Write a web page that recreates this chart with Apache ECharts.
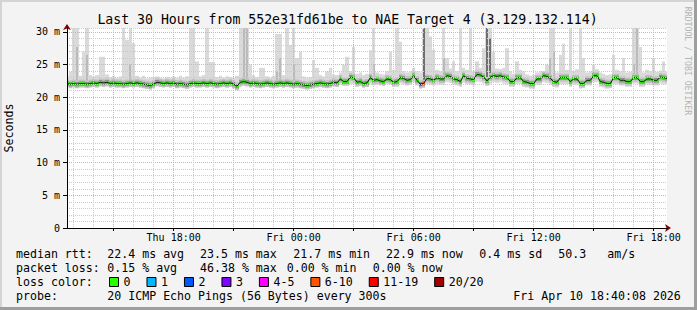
<!DOCTYPE html>
<html><head><meta charset="utf-8">
<script src="https://cdn.jsdelivr.net/npm/echarts@6/dist/echarts.min.js"></script>
<style>
html,body{margin:0;padding:0;background:#f3f3f3;overflow:hidden;}
#c{position:absolute;left:0;top:0;width:697px;height:310px;}
.fr{position:absolute;pointer-events:none;}
</style></head><body>
<div id="c"></div>
<div class="fr" style="left:0;top:0;width:697px;height:2px;background:#d4d4d4"></div>
<div class="fr" style="left:0;top:0;width:2px;height:310px;background:#d4d4d4"></div>
<div class="fr" style="right:0;top:0;width:3px;height:310px;background:#9e9e9e"></div>
<div class="fr" style="left:0;bottom:0;width:697px;height:3px;background:#9e9e9e"></div>
<script>
// ---- data (10-minute samples, Thu 12:40 .. Fri 18:40) ----
const startLabel = ['Thu', 12, 40];
const stepMinutes = 10;
const medianRtt = [
22.1,22.0,22.1,22.0,22.1,22.1,22.0,22.1,22.2,22.1,
22.3,22.2,22.3,22.1,22.2,22.1,22.1,22.0,22.1,22.2,
22.1,22.2,22.1,22.0,21.9,21.8,22.0,22.3,22.2,22.1,
22.2,22.1,22.2,22.0,22.1,22.0,21.9,22.1,22.2,22.1,
22.1,22.2,22.1,22.2,22.1,22.0,22.1,22.2,22.1,22.2,
22.0,21.7,22.3,22.4,22.3,22.1,22.2,22.1,22.0,22.1,
22.2,22.1,22.0,22.1,22.2,22.1,22.2,22.1,22.0,22.1,
22.0,21.9,21.8,21.9,22.0,22.1,22.2,22.1,22.0,22.1,
22.3,22.2,22.8,22.4,22.4,23.1,23.0,22.3,22.4,22.1,
22.2,23.0,22.6,22.7,22.5,22.4,22.8,22.7,22.3,22.4,
23.0,22.9,22.6,22.7,23.3,22.6,22.0,22.1,22.9,22.8,
22.6,23.0,22.8,22.8,23.3,23.2,22.8,22.7,22.4,23.3,
22.9,22.8,22.7,23.5,23.4,23.1,22.5,23.1,23.3,23.2,
23.3,23.1,23.0,22.4,22.4,23.0,23.0,22.4,22.3,22.1,
22.1,22.8,22.8,23.3,23.2,22.9,22.4,22.3,23.0,23.0,
23.0,22.4,22.8,22.8,22.1,22.1,22.6,22.6,23.3,23.3,
22.4,22.3,22.1,22.1,23.0,23.0,22.6,22.6,22.4,22.4,
23.0,23.0,22.4,22.4,22.8,22.8,22.6,22.6,23.1,23.0,22.9];
const pingMin = [
21.6,21.5,21.6,21.5,21.6,21.6,21.5,21.6,21.7,21.6,
21.7,21.6,21.7,21.6,21.6,21.5,21.6,21.5,21.6,21.6,
21.6,21.7,21.5,21.4,21.3,21.2,21.5,21.7,21.6,21.6,
21.6,21.5,21.6,21.5,21.6,21.5,21.4,21.6,21.6,21.5,
21.6,21.6,21.5,21.6,21.6,21.5,21.6,21.6,21.5,21.6,
21.4,21.1,21.6,21.8,21.7,21.6,21.6,21.5,21.5,21.6,
21.6,21.5,21.5,21.6,21.6,21.5,21.6,21.6,21.5,21.5,
21.4,21.4,21.3,21.4,21.5,21.6,21.6,21.5,21.5,21.6,
21.7,21.6,21.9,21.8,21.8,22.0,22.0,21.6,21.7,21.5,
21.6,22.0,21.8,21.9,21.8,21.7,22.0,21.9,21.6,21.6,
22.1,22.0,21.8,21.9,22.3,21.8,21.3,21.4,22.0,21.9,
21.8,22.0,21.9,21.9,22.3,22.2,21.9,21.8,21.6,22.2,
22.0,21.9,21.8,22.4,22.3,22.1,21.7,22.0,22.3,22.2,
22.3,22.1,22.0,21.6,21.6,22.0,22.0,21.6,21.5,21.3,
21.3,21.9,21.9,22.3,22.2,21.9,21.6,21.5,22.0,22.0,
22.0,21.6,21.9,21.9,21.3,21.4,21.8,21.8,22.3,22.3,
21.6,21.5,21.3,21.4,22.0,22.0,21.8,21.8,21.6,21.6,
22.1,22.1,21.6,21.6,21.9,21.9,21.8,21.8,22.1,22.0,22.0];
const pingMax = [
23.2,23.9,30.6,30.6,23.3,27.0,30.6,23.4,23.2,23.4,
26.2,26.2,23.5,23.1,23.3,23.0,23.2,30.6,28.8,30.6,
28.3,23.3,23.0,23.3,22.9,23.0,23.1,23.2,23.0,22.9,
23.1,23.0,23.2,23.0,23.3,23.0,23.2,30.6,30.6,25.5,
23.2,23.4,30.6,25.4,25.4,23.1,23.3,23.0,23.2,23.1,
23.0,23.3,30.6,30.6,30.6,25.0,23.4,23.1,24.5,24.5,
23.2,23.0,23.3,29.7,29.7,23.4,30.6,28.0,30.6,26.0,
27.0,23.2,23.0,23.1,25.7,24.5,23.4,23.2,24.0,24.5,
23.5,23.4,23.8,25.0,26.2,24.0,27.7,23.6,23.8,23.4,
23.6,27.2,30.6,23.8,23.6,23.5,24.0,27.0,24.2,30.6,
28.5,24.0,23.8,24.0,24.5,24.0,23.8,30.6,30.6,29.3,
27.3,24.2,24.0,30.6,26.0,24.4,25.5,24.0,30.6,24.5,
24.2,30.6,24.0,25.5,24.5,27.5,30.6,30.6,27.0,24.4,
24.3,24.5,27.5,24.0,23.6,25.5,24.2,24.0,23.5,23.3,
23.4,23.8,24.0,24.0,25.0,30.6,30.6,23.8,26.5,28.2,
24.2,30.6,24.0,24.3,30.6,26.0,23.8,24.0,25.0,24.3,
23.8,23.6,23.4,23.5,26.5,24.2,24.0,26.0,23.8,23.9,
30.6,30.6,27.7,23.8,24.2,24.0,26.0,23.9,24.1,25.5,24.0];
// denser smoke on some spikes (sample index, upper value)
const midIdx = [3, 6, 19, 53, 54, 63, 64, 68, 92, 113, 145, 146, 170, 171];
const midTop = [27.7, 26.5, 25.0, 30.6, 30.6, 24.0, 26.0, 25.0, 25.0, 26.0, 26.0, 27.0, 25.0, 30.6];
const darkIdx = [107, 126, 127];
const darkTop = [30.6, 30.6, 29.0];
// samples with packet loss (sample index, lost pings of 20)
const lossIdx = [106, 107];
const lossPings = [2, 9];
const lossNames = ['0', '1', '2', '3', '4-5', '6-10', '11-19', '20/20'];
const lossColors = ['#26ff00', '#00b8ff', '#0059ff', '#7e00ff', '#ff00ff', '#ff5500', '#ff0000', '#a10000'];
const xLabels = ['Thu 18:00', 'Fri 00:00', 'Fri 06:00', 'Fri 12:00', 'Fri 18:00'];
const yMax = 30.6;

// ---- categories ----
const categories = [];
const minuteOfDay = [];
for (let i = 0; i < medianRtt.length; i++) {
  const m = startLabel[1] * 60 + startLabel[2] + i * stepMinutes;
  const day = m >= 1440 ? 'Fri' : 'Thu';
  const md = m % 1440;
  minuteOfDay.push(md);
  const hh = String(Math.floor(md / 60)).padStart(2, '0');
  const mm = String(md % 60).padStart(2, '0');
  categories.push(day + ' ' + hh + ':' + mm);
}
function bucketOf(n) {
  if (n <= 0) return 0; if (n === 1) return 1; if (n === 2) return 2; if (n === 3) return 3;
  if (n <= 5) return 4; if (n <= 10) return 5; if (n <= 19) return 6; return 7;
}
const bucketData = lossNames.map(() => []);
medianRtt.forEach((m, i) => {
  const k = lossIdx.indexOf(i);
  const b = k >= 0 ? bucketOf(lossPings[k]) : 0;
  bucketData[b].push([i, m]);
});

const MONO = '"DejaVu Sans Mono", monospace';

function xspan(api, i, frac) {
  const c = api.coord([i, 0]);
  const w = api.size([1, 0])[0] * (frac || 1);
  const x0 = Math.round(c[0] - w / 2), x1 = Math.round(c[0] + w / 2);
  return [x0, Math.max(x1, x0 + 1)];
}
function rangeRect(fill, frac) {
  return function (params, api) {
    const i = api.value(0);
    const a = api.coord([i, api.value(1)]);
    const b = api.coord([i, api.value(2)]);
    const s = xspan(api, i, frac);
    return { type: 'rect', silent: true, shape: { x: s[0], y: b[1], width: s[1] - s[0], height: a[1] - b[1] }, style: { fill: fill } };
  };
}
function bandItem(params, api) {
  const i = api.value(0);
  const c = api.coord([i, api.value(1)]);
  const s = xspan(api, i);
  return { type: 'group', silent: true, children: [
    { type: 'rect', shape: { x: s[0], y: c[1] - 4, width: s[1] - s[0], height: 8 }, style: { fill: '#c2c2c2' } },
    { type: 'rect', shape: { x: s[0], y: c[1] - 2.2, width: s[1] - s[0], height: 4.4 }, style: { fill: '#8e8e8e' } }
  ]};
}
function lossItem(color) {
  return function (params, api) {
    const i = api.value(0);
    const c = api.coord([i, api.value(1)]);
    const s = xspan(api, i);
    return { type: 'rect', silent: true, shape: { x: s[0], y: c[1] - 1.2, width: s[1] - s[0], height: 2.4 }, style: { fill: color } };
  };
}

const smokeData = medianRtt.map((m, i) => [i, pingMin[i], pingMax[i]]);
const midData = midIdx.map((i, k) => [i, medianRtt[i], midTop[k]]);
const darkData = darkIdx.map((i, k) => [i, medianRtt[i], darkTop[k]]);
const bandData = medianRtt.map((m, i) => [i, m]);

const chart = echarts.init(document.getElementById('c'), null, { renderer: 'svg', width: 697, height: 310 });

const series = [
  { type: 'custom', name: 'smoke', renderItem: rangeRect('#dadada', 1), data: smokeData, encode: { x: 0, y: [1, 2] }, clip: true, z: 1 },
  { type: 'custom', name: 'smokeMid', renderItem: rangeRect('#bababa', 0.55), data: midData, encode: { x: 0, y: [1, 2] }, clip: true, z: 1 },
  { type: 'custom', name: 'smokeDark', renderItem: rangeRect('#6e6e6e', 0.55), data: darkData, encode: { x: 0, y: [1, 2] }, clip: true, z: 1 },
  { type: 'custom', name: 'band', renderItem: bandItem, data: bandData, encode: { x: 0, y: 1 }, clip: true, z: 1 },
  { type: 'line', name: 'median', data: medianRtt, showSymbol: false, symbol: 'none', silent: true,
    lineStyle: { color: '#141414', width: 1 }, z: 1 }
];
lossNames.forEach((n, b) => {
  series.push({ type: 'custom', name: n, renderItem: lossItem(lossColors[b]), data: bucketData[b],
    encode: { x: 0, y: 1 }, itemStyle: { color: lossColors[b] }, clip: true, z: 1 });
});

const gridLineRed = { color: '#ffa0a0', width: 1, type: [1, 1] };
const gridLineGrey = { color: '#cccccc', width: 1, type: [1, 1] };

chart.setOption({
  animation: false,
  backgroundColor: 'transparent',
  grid: { left: 67, top: 28, width: 600, height: 200, backgroundColor: '#ffffff', show: true, borderWidth: 0, outerBoundsMode: 'none' },
  xAxis: [
    { type: 'category', data: categories, boundaryGap: false, position: 'bottom', z: 6,
      axisLine: { show: true, onZero: false, lineStyle: { color: '#000', width: 1 } },
      axisTick: { show: true, length: 3, inside: false, lineStyle: { color: '#000' },
        interval: (idx) => minuteOfDay[idx] % 180 === 0 },
      axisLabel: { show: true, interval: (idx, val) => xLabels.indexOf(val) >= 0, margin: 4,
        color: '#000', fontFamily: MONO, fontSize: 10 },
      splitLine: { show: true, interval: (idx) => minuteOfDay[idx] % 180 === 0, lineStyle: gridLineRed }
    },
    { type: 'category', data: categories, boundaryGap: false, position: 'bottom', z: 5,
      axisLine: { show: true, onZero: false, symbol: ['none', 'arrow'], symbolSize: [6, 6], symbolOffset: [0, 4],
        lineStyle: { color: '#7f0000', width: 1 } },
      axisTick: { show: false }, axisLabel: { show: false },
      splitLine: { show: true, interval: (idx) => minuteOfDay[idx] % 60 === 0 && minuteOfDay[idx] % 180 !== 0, lineStyle: gridLineGrey }
    }
  ],
  yAxis: [
    { type: 'value', min: 0, max: yMax, interval: 5, position: 'left', z: 6,
      name: 'Seconds', nameLocation: 'middle', nameRotate: 90, nameGap: 52,
      nameTextStyle: { color: '#000', fontFamily: MONO, fontSize: 11.6 },
      axisLine: { show: true, lineStyle: { color: '#000', width: 1 } },
      axisTick: { show: true, length: 4, lineStyle: { color: '#000' } },
      axisLabel: { show: true, margin: 7, showMaxLabel: false, color: '#000', fontFamily: MONO, fontSize: 10,
        formatter: (v) => (v === 0 ? '0' : (Math.abs(v - Math.round(v)) < 1e-6 ? v + ' m' : '')) },
      splitLine: { show: true, showMinLine: true, showMaxLine: false, lineStyle: gridLineRed }
    },
    { type: 'value', min: 0, max: yMax, interval: 1, position: 'left', z: 5,
      axisLine: { show: true, symbol: ['none', 'arrow'], symbolSize: [6, 6], symbolOffset: [0, 4],
        lineStyle: { color: '#7f0000', width: 1 } },
      axisTick: { show: false }, axisLabel: { show: false },
      splitLine: { show: true, lineStyle: gridLineGrey }
    }
  ],
  legend: {
    data: lossNames, left: 109, top: 276, padding: 0, itemGap: 16, itemWidth: 9, itemHeight: 9,
    icon: 'rect', selectedMode: false, orient: 'horizontal',
    itemStyle: { borderColor: '#000', borderWidth: 1 },
    textStyle: { color: '#000', fontFamily: MONO, fontSize: 11.6 }
  },
  graphic: [
    { type: 'text', x: 347.5, y: 19.5, silent: true, style: { text: 'Last 30 Hours from 552e31fd61be to NAE Target 4 (3.129.132.114)', fill: '#000', font: '13.2px ' + MONO, align: 'center', verticalAlign: 'middle' } },
    { type: 'text', x: 688, y: 61, rotation: -Math.PI / 2, silent: true, style: { text: 'RRDTOOL / TOBI OETIKER', fill: '#b4b4b4', font: '8.2px ' + MONO, align: 'center', verticalAlign: 'middle' } },
    { type: 'text', x: 16, y: 254, silent: true, style: { text: 'median rtt:', fill: '#000', font: '11.6px ' + MONO, verticalAlign: 'middle' } },
    { type: 'text', x: 107.3, y: 254, silent: true, style: { text: '22.4 ms avg', fill: '#000', font: '11.6px ' + MONO, verticalAlign: 'middle' } },
    { type: 'text', x: 200, y: 254, silent: true, style: { text: '23.5 ms max', fill: '#000', font: '11.6px ' + MONO, verticalAlign: 'middle' } },
    { type: 'text', x: 293.3, y: 254, silent: true, style: { text: '21.7 ms min', fill: '#000', font: '11.6px ' + MONO, verticalAlign: 'middle' } },
    { type: 'text', x: 386, y: 254, silent: true, style: { text: '22.9 ms now', fill: '#000', font: '11.6px ' + MONO, verticalAlign: 'middle' } },
    { type: 'text', x: 479.3, y: 254, silent: true, style: { text: '0.4 ms sd', fill: '#000', font: '11.6px ' + MONO, verticalAlign: 'middle' } },
    { type: 'text', x: 558.3, y: 254, silent: true, style: { text: '50.3', fill: '#000', font: '11.6px ' + MONO, verticalAlign: 'middle' } },
    { type: 'text', x: 607.3, y: 254, silent: true, style: { text: 'am/s', fill: '#000', font: '11.6px ' + MONO, verticalAlign: 'middle' } },
    { type: 'text', x: 16, y: 268.3, silent: true, style: { text: 'packet loss:', fill: '#000', font: '11.6px ' + MONO, verticalAlign: 'middle' } },
    { type: 'text', x: 107.3, y: 268.3, silent: true, style: { text: '0.15 % avg', fill: '#000', font: '11.6px ' + MONO, verticalAlign: 'middle' } },
    { type: 'text', x: 200, y: 268.3, silent: true, style: { text: '46.38 % max', fill: '#000', font: '11.6px ' + MONO, verticalAlign: 'middle' } },
    { type: 'text', x: 286.7, y: 268.3, silent: true, style: { text: '0.00 % min', fill: '#000', font: '11.6px ' + MONO, verticalAlign: 'middle' } },
    { type: 'text', x: 372.7, y: 268.3, silent: true, style: { text: '0.00 % now', fill: '#000', font: '11.6px ' + MONO, verticalAlign: 'middle' } },
    { type: 'text', x: 16, y: 282.3, silent: true, style: { text: 'loss color:', fill: '#000', font: '11.6px ' + MONO, verticalAlign: 'middle' } },
    { type: 'text', x: 16, y: 296.3, silent: true, style: { text: 'probe:', fill: '#000', font: '11.6px ' + MONO, verticalAlign: 'middle' } },
    { type: 'text', x: 107.3, y: 296.3, silent: true, style: { text: '20 ICMP Echo Pings (56 Bytes) every 300s', fill: '#000', font: '11.6px ' + MONO, verticalAlign: 'middle' } },
    { type: 'text', x: 513.3, y: 296.3, silent: true, style: { text: 'Fri Apr 10 18:40:08 2026', fill: '#000', font: '11.6px ' + MONO, verticalAlign: 'middle' } }
  ],
  series: series
});
</script>
</body></html>
